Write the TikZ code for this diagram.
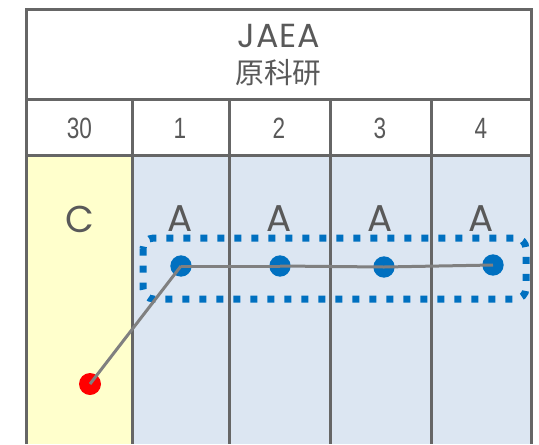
\documentclass[tikz,border=0pt]{standalone}
\usepackage{fontspec}
\setmainfont{Poppins}
\newfontfamily\headfont[LetterSpace=3]{Poppins}
\newfontfamily\numfont[FakeStretch=0.77]{Liberation Sans}
\newfontfamily\cjkfont{Noto Sans CJK JP}
\usetikzlibrary{positioning}
\definecolor{gridgray}{HTML}{666666}
\definecolor{txtgray}{HTML}{595959}
\definecolor{linkgray}{HTML}{808080}
\definecolor{cellyellow}{HTML}{FFFFCC}
\definecolor{cellblue}{HTML}{DCE6F2}
\definecolor{dotblue}{HTML}{0070C0}

\begin{document}
\begin{tikzpicture}[x=0.75pt, y=-0.75pt,
                    grid/.style={line width=2.25pt, gridgray},
                    head/.style={txtgray, font=\headfont\fontsize{25}{28}\selectfont},
                    headjp/.style={txtgray, font=\cjkfont\fontsize{21.5}{24}\selectfont},
                    num/.style={txtgray, font=\numfont\fontsize{22}{24}\selectfont},
                    tag/.style={txtgray, font=\fontsize{28}{30}\selectfont},
                    site/.style={circle, fill=dotblue, inner sep=0, minimum size=16pt},
                    src/.style={circle, fill=red, inner sep=0, minimum size=16.5pt},
                    link/.style={line width=2.25pt, linkgray},
                    group/.style={line width=5.25pt, dotblue, dash pattern=on 5.25pt off 7.5pt, rounded corners=8pt}
                    ]
    \useasboundingbox (0,0) rectangle (539,444);
    % cell fills
    \fill[cellyellow] (26,155) rectangle (132,444);
    \fill[cellblue]   (132,155) rectangle (531,444);

    % table lines
    \draw[grid] (26,444) -- (26,9) -- (531,9) -- (531,444);
    \draw[grid] (26,99) -- (531,99);
    \draw[grid] (26,155) -- (531,155);
    \foreach \x in {132,229,330,431}
        \draw[grid] (\x,99) -- (\x,444);

    % header
    \node[head]   (org)   at (279,36)   {JAEA};
    \node[headjp] (orgjp) at (278.5,73) {原科研};
    \node[num] (n30) at (79.5,128) {30};
    \node[num] (n1)  at (180,128)  {1};
    \node[num] (n2)  at (279,128)  {2};
    \node[num] (n3)  at (380,128)  {3};
    \node[num] (n4)  at (481,128)  {4};

    % labels
    \node[tag] (C)  at (80,219)  {C};
    \node[tag] (A1) at (180,219) {A};
    \node[tag] (A2) at (279,219) {A};
    \node[tag] (A3) at (380,219) {A};
    \node[tag] (A4) at (481,219) {A};

    % group box
    \draw[group] (143,238) rectangle (526,299);

    % sites
    \node[src]  (R)  at (90,384)  {};
    \node[site] (S1) at (181,266) {};
    \node[site] (S2) at (280,266) {};
    \node[site] (S3) at (384,267) {};
    \node[site] (S4) at (493,265) {};

    % links
    \draw[link] (R.center) -- (S1.center);
    \draw[link] (S1.center) -- (S2.center);
    \draw[link] (S2.center) -- (S3.center);
    \draw[link] (S3.center) -- (S4.center);
\end{tikzpicture}
\end{document}
